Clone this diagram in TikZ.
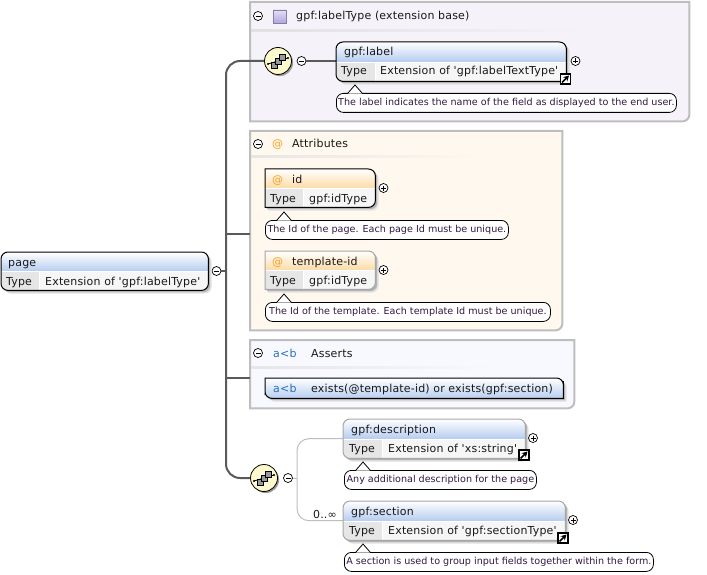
\documentclass[tikz,border=0pt]{standalone}
\usepackage{fontspec}
\setmainfont{DejaVu Sans}
\newfontfamily\boxfont[LetterSpace=1.6]{DejaVu Sans}
\newfontfamily\notefont{DejaVu Sans}
\usetikzlibrary{calc, positioning, arrows.meta, shadows}
\definecolor{busgray}{RGB}{90,90,90}
\definecolor{thingray}{RGB}{190,190,190}
\definecolor{panelgray}{RGB}{190,190,190}
\definecolor{extfill}{RGB}{245,242,250}
\definecolor{attrfill}{RGB}{255,248,238}
\definecolor{assertfill}{RGB}{248,249,254}
\definecolor{headblue}{RGB}{184,206,240}
\definecolor{headorange}{RGB}{253,220,170}
\definecolor{cellgray}{RGB}{230,230,230}
\definecolor{rowgray}{RGB}{246,246,246}
\definecolor{seqyellow}{RGB}{253,249,200}
\definecolor{noteink}{RGB}{50,25,65}
\definecolor{attrorange}{RGB}{245,160,30}
\definecolor{assertblue}{RGB}{40,110,190}
\definecolor{basepurple}{RGB}{178,165,225}

% outline of a box with its own radius at each corner
\newcommand{\cornerpath}[5]{[rounded corners=#2] (#1.west) |- (#1.north) [rounded corners=#3] -| (#1.east)
  [rounded corners=#4] |- (#1.south) [rounded corners=#5] -| (#1.west) -- cycle}
% name, outline, frame colour, header colour, width of the Type cell
\newcommand{\paintbox}[5]{
  \fill[black!12, transform canvas={xshift=3.2pt,yshift=-3.2pt}] #2;
  \fill[black!30, transform canvas={xshift=1.8pt,yshift=-1.8pt}] #2;
  \begin{scope}
    \clip #2;
    \shade[top color=white, bottom color=#4] (#1.north west) rectangle ($(#1.east)+(0,-0.5)$);
    \fill[white] (#1.west) rectangle (#1.south east);
    \fill[rowgray] ($(#1.west)+(#5+1,1)$) rectangle (#1.south east);
    \fill[cellgray] ($(#1.west)+(0,1)$) rectangle ($(#1.south west)+(#5,0)$);
  \end{scope}
  \draw[#3, line width=1pt] #2;
}
\newcommand{\elemshape}[4]{\paintbox{#1}{\cornerpath{#1}{7pt}{7pt}{7pt}{7pt}}{#2}{#3}{#4}}
\newcommand{\attrshape}[4]{\paintbox{#1}{\cornerpath{#1}{0pt}{7pt}{7pt}{0pt}}{#2}{#3}{#4}}
% pointer on top of a note
\newcommand{\notetip}[1]{
  \fill[white] ($(#1.north west)+(12,0.6)$) -- ++(7,-8) -- ++(7,8) -- cycle;
  \draw[black, line width=0.8pt] ($(#1.north west)+(12,0)$) -- ++(7,-8) -- ++(7,8);
}

\tikzset{
  boxtext/.style={anchor=base west, inner sep=0pt, font=\boxfont\fontsize{11}{12}\selectfont, text=black!90},
  notetext/.style={rectangle, draw, line width=0.8pt, fill=white, rounded corners=7pt, inner sep=0pt,
    minimum height=19pt, align=center, text=noteink, font=\notefont\fontsize{9.6}{12}\selectfont},
  elem/.style={rectangle, inner sep=0pt, anchor=north west},
  panel/.style={rectangle, inner sep=0pt, anchor=north west},
  panelframe/.style={draw=panelgray, line width=2pt},
  btn/.style={circle, draw, fill=white, line width=0.7pt, inner sep=0pt, minimum size=9pt},
  minusbtn/.style={btn, path picture={\draw[line width=0.8pt] ($(path picture bounding box.center)+(-2.5,0)$) -- +(5,0);}},
  plusbtn/.style={btn, path picture={\draw[line width=0.8pt] ($(path picture bounding box.center)+(-2.5,0)$) -- +(5,0);
    \draw[line width=0.8pt] ($(path picture bounding box.center)+(0,-2.5)$) -- +(0,5);}},
  linkicon/.style={rectangle, draw=black, fill=white, line width=1.4pt, inner sep=0pt, minimum size=10pt,
    path picture={\draw[line width=1.6pt, -{Stealth[length=5.5pt,width=6pt]}] ($(path picture bounding box.center)+(-3.5,3.5)$) -- +(7,-7);}},
  seq/.style={circle, draw=black, line width=0.8pt, inner color=seqyellow!60, outer color=seqyellow, inner sep=0pt, minimum size=27pt,
    drop shadow={shadow xshift=1.6pt, shadow yshift=-1.6pt, fill=black!40, opacity=1}},
  bus/.style={draw=busgray, line width=2pt},
  thin bus/.style={draw=thingray, line width=1pt},
  pics/seqicon/.style={code={
    \draw[line width=0.8pt] (-10,3) -- (10,-3);
    \fill (-10,3) circle (1.2pt) (10,-3) circle (1.2pt);
    \foreach \d in {4,0,-4} {
      \filldraw[fill=black!40, line width=0.6pt] (-\d-3,\d-3) rectangle (-\d+3,\d+3);
    }
  }}
}

\begin{document}
\begin{tikzpicture}[x=1pt, y=-1pt]
\useasboundingbox (0,0) rectangle (707,575);

% panels
\node[panel, minimum width=439pt, minimum height=119pt] (basePanel) at (250,2) {};
\node[panel, minimum width=312pt, minimum height=199pt] (attrPanel) at (250,131) {};
\node[panel, minimum width=324pt, minimum height=68pt] (assertPanel) at (250,340) {};
\draw[panelframe, fill=extfill] \cornerpath{basePanel}{0pt}{0pt}{7pt}{0pt};
\draw[panelframe, fill=attrfill] \cornerpath{attrPanel}{0pt}{0pt}{7pt}{0pt};
\draw[panelframe, fill=assertfill] \cornerpath{assertPanel}{0pt}{0pt}{7pt}{0pt};
\shade[left color=black!12, right color=extfill] (251,30) rectangle (582,32);
\shade[left color=black!10, right color=attrfill] (251,156) rectangle (482,158);
\shade[left color=black!10, right color=assertfill] (251,366) rectangle (494,368);

% boxes
\node[elem, minimum width=207pt, minimum height=38pt] (page) at (1,252) {};
\node[elem, minimum width=230pt, minimum height=39pt] (gpfLabel) at (336,42) {};
\node[elem, minimum width=110pt, minimum height=38pt] (idAttr) at (265,169) {};
\node[elem, minimum width=110pt, minimum height=38pt] (templateAttr) at (265,251) {};
\node[elem, minimum width=298pt, minimum height=20pt] (assertBox) at (265,378) {};
\node[elem, minimum width=182pt, minimum height=39pt] (gpfDescription) at (343,419) {};
\node[elem, minimum width=222pt, minimum height=39pt] (gpfSection) at (343,501) {};

% connectors
\node[minusbtn] (pageMinus) at (216.5,271) {};
\node[seq] (seqTop) at (278,61) {};
\node[seq] (seqBottom) at (264,478) {};
\node[minusbtn] (seqTopMinus) at (301.5,61) {};
\node[minusbtn] (seqBottomMinus) at (288,478) {};
\coordinate (busJoin) at (226,271);
\coordinate (attrJoin) at (250,234);
\coordinate (assertJoin) at (250,378);
\coordinate (thinJoin) at (297,478);
\draw[bus] (pageMinus) -- (busJoin);
\draw[bus, rounded corners=14pt] (seqTop) -| (busJoin);
\draw[bus, rounded corners=14pt] (seqBottom) -| (busJoin);
\draw[bus] (attrJoin) -- (attrJoin -| busJoin);
\draw[bus] (assertJoin) -- (assertJoin -| busJoin);
\draw[bus] (seqTopMinus) -- (seqTopMinus -| gpfLabel.west);
\draw[thin bus] (seqBottomMinus) -- (thinJoin);
\draw[thin bus, rounded corners=12pt] (gpfDescription.west) -| (thinJoin);
\draw[thin bus, rounded corners=12pt] (gpfSection.west) -| (thinJoin);

\elemshape{page}{black}{headblue}{38}
\elemshape{gpfLabel}{black}{headblue}{39}
\attrshape{idAttr}{black}{headorange}{38}
\attrshape{templateAttr}{black!35}{headorange}{38}
\elemshape{gpfDescription}{black!35}{headblue}{39}
\elemshape{gpfSection}{black!35}{headblue}{39}

% the assert box has one row only
\fill[black!12, transform canvas={xshift=3.2pt,yshift=-3.2pt}] \cornerpath{assertBox}{0pt}{7pt}{0pt}{7pt};
\fill[black!30, transform canvas={xshift=1.8pt,yshift=-1.8pt}] \cornerpath{assertBox}{0pt}{7pt}{0pt}{7pt};
\shade[top color=white, bottom color=headblue, draw=black, line width=1pt] \cornerpath{assertBox}{0pt}{7pt}{0pt}{7pt};

\pic at (seqTop) {seqicon};
\pic at (seqBottom) {seqicon};

% header labels
\node[minusbtn] (baseMinus) at (258,16) {};
\node[rectangle, draw=black!25!basepurple, line width=0.9pt, top color=basepurple!35, bottom color=basepurple, minimum size=13pt, inner sep=0pt] (baseIcon) at (279.5,16.5) {};
\node[boxtext] (baseTitle) at (296,20) {gpf:labelType (extension base)};
\node[minusbtn] (attrMinus) at (258,144) {};
\node[boxtext, text=attrorange] (attrIcon) at (272,148) {@};
\node[boxtext] (attrTitle) at (292,148) {Attributes};
\node[minusbtn] (assertMinus) at (258,353) {};
\node[boxtext, text=assertblue] (assertIcon) at (273,357) {a<b};
\node[boxtext] (assertTitle) at (311,357) {Asserts};

% box texts
\node[boxtext] (pageName) at (8,266) {page};
\node[boxtext] (pageType) at (6,285) {Type};
\node[boxtext] (pageValue) at (45,285) {Extension of 'gpf:labelType'};
\node[boxtext] (labelName) at (344,56) {gpf:label};
\node[boxtext] (labelType) at (341,75) {Type};
\node[boxtext] (labelValue) at (380,75) {Extension of 'gpf:labelTextType'};
\node[boxtext, text=attrorange] (idIcon) at (272,183) {@};
\node[boxtext] (idName) at (292,183) {id};
\node[boxtext] (idType) at (270,202) {Type};
\node[boxtext] (idValue) at (309,202) {gpf:idType};
\node[boxtext, text=attrorange] (templateIcon) at (272,265) {@};
\node[boxtext] (templateName) at (292,265) {template-id};
\node[boxtext] (templateType) at (270,284) {Type};
\node[boxtext] (templateValue) at (309,284) {gpf:idType};
\node[boxtext, text=assertblue] (assertBoxIcon) at (273,392) {a<b};
\node[boxtext] (assertBoxText) at (311,392) {exists(@template-id) or exists(gpf:section)};
\node[boxtext] (descName) at (351,433) {gpf:description};
\node[boxtext] (descType) at (349,452) {Type};
\node[boxtext] (descValue) at (388,452) {Extension of 'xs:string'};
\node[boxtext] (sectionName) at (351,515) {gpf:section};
\node[boxtext] (sectionType) at (349,534) {Type};
\node[boxtext] (sectionValue) at (388,534) {Extension of 'gpf:sectionType'};
\node[boxtext, anchor=base east] (sectionCard) at (337,518) {0..∞};

% notes
\node[notetext, minimum width=340pt, anchor=north west] (labelNote) at (336,93) {The label indicates the name of the field as displayed to the end user.};
\node[notetext, minimum width=243pt, anchor=north west] (idNote) at (265,220) {The Id of the page. Each page Id must be unique.};
\node[notetext, minimum width=285pt, anchor=north west] (templateNote) at (265,302) {The Id of the template. Each template Id must be unique.};
\node[notetext, minimum width=192pt, anchor=north west] (descNote) at (344,470) {Any additional description for the page};
\node[notetext, minimum width=309pt, anchor=north west] (sectionNote) at (344,552) {A section is used to group input fields together within the form.};
\foreach \n in {labelNote, idNote, templateNote, descNote, sectionNote} {\notetip{\n}}

% expanders
\node[plusbtn] (labelPlus) at (575.5,61) {};
\node[plusbtn] (idPlus) at (383.5,188) {};
\node[plusbtn] (templatePlus) at (383.5,270) {};
\node[plusbtn] (descPlus) at (533,438) {};
\node[plusbtn] (sectionPlus) at (573,520) {};
\node[linkicon] (labelLink) at (565.5,79) {};
\node[linkicon] (descLink) at (524,455) {};
\node[linkicon] (sectionLink) at (563,538) {};
\end{tikzpicture}
\end{document}
